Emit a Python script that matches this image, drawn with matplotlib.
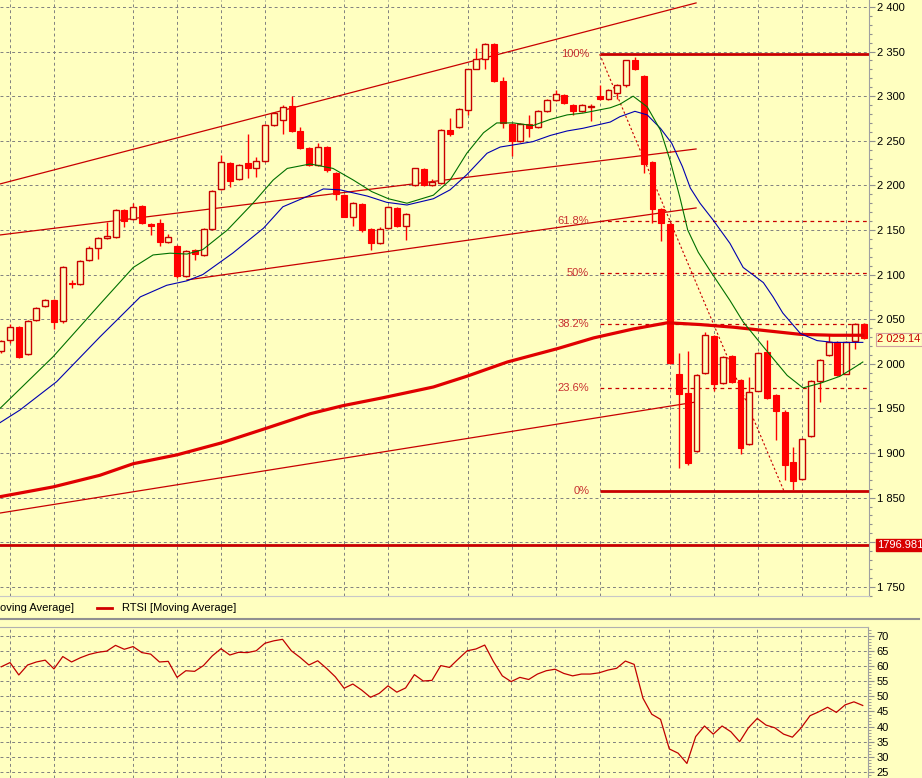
import numpy as np
import matplotlib.pyplot as plt
from matplotlib.ticker import MultipleLocator, FuncFormatter
from matplotlib.lines import Line2D

plt.rcParams['font.family'] = ['Liberation Sans', 'DejaVu Sans']

BG = '#FFFFC0'
RED = '#FF0000'
DARKRED = '#C80000'
GRID = '#808080'

# candle index of each bar (x), first visible bar is -1
idx = list(range(-1, 98))
opens = [2014, 2027, 2041, 2011, 2049, 2065, 2072, 2048, 2091, 2089,
         2116, 2130, 2141, 2142, 2172, 2162, 2177, 2157, 2158, 2136,
         2132, 2098, 2128, 2122, 2151, 2196, 2225, 2207, 2225, 2219,
         2227, 2268, 2273, 2289, 2261, 2242, 2223, 2243, 2214, 2189,
         2165, 2179, 2151, 2135, 2152, 2175, 2154, 2200, 2218, 2200,
         2203, 2262, 2265, 2285, 2331, 2342, 2359, 2317, 2269, 2250,
         2269, 2265, 2283, 2296, 2301, 2290, 2283, 2288, 2300, 2297,
         2303, 2313, 2340, 2323, 2226, 2174, 2157, 1989, 1967, 1902,
         1990, 2031, 1978, 2009, 1982, 1910, 1970, 2013, 1965, 1946,
         1890, 1871, 1919, 1981, 2010, 2024, 1989, 2026, 2045]
highs = [2027, 2045, 2042, 2049, 2064, 2073, 2073, 2110, 2094, 2116,
         2132, 2142, 2159, 2173, 2173, 2180, 2178, 2158, 2162, 2145,
         2133, 2127, 2129, 2152, 2195, 2234, 2226, 2224, 2258, 2232,
         2269, 2282, 2290, 2300, 2265, 2243, 2248, 2244, 2215, 2190,
         2181, 2180, 2152, 2153, 2177, 2176, 2169, 2220, 2219, 2207,
         2263, 2275, 2287, 2331, 2354, 2360, 2360, 2322, 2270, 2270,
         2279, 2284, 2297, 2307, 2302, 2291, 2291, 2291, 2313, 2308,
         2314, 2341, 2344, 2324, 2227, 2175, 2158, 2012, 2014, 1988,
         2036, 2032, 2009, 2010, 1983, 1985, 2013, 2027, 1966, 1948,
         1907, 1917, 1982, 2005, 2033, 2025, 2025, 2046, 2046]
lows = [2012, 2023, 2007, 2010, 2048, 2064, 2039, 2046, 2085, 2088,
        2115, 2117, 2140, 2141, 2153, 2161, 2157, 2144, 2132, 2135,
        2096, 2097, 2116, 2121, 2150, 2195, 2198, 2206, 2208, 2209,
        2226, 2267, 2258, 2260, 2241, 2222, 2222, 2215, 2184, 2164,
        2155, 2148, 2128, 2134, 2151, 2153, 2139, 2199, 2199, 2199,
        2202, 2255, 2264, 2279, 2330, 2331, 2316, 2264, 2233, 2249,
        2254, 2264, 2282, 2295, 2291, 2279, 2282, 2272, 2296, 2296,
        2297, 2310, 2329, 2214, 2158, 2138, 2000, 1883, 1886, 1901,
        1989, 1970, 1977, 1979, 1899, 1909, 1969, 1960, 1915, 1870,
        1859, 1870, 1918, 1957, 2009, 1986, 1988, 2017, 2028]
closes = [2025, 2041, 2008, 2048, 2063, 2072, 2047, 2108, 2089, 2115,
          2130, 2141, 2143, 2172, 2160, 2176, 2158, 2155, 2136, 2142,
          2098, 2126, 2123, 2151, 2194, 2226, 2205, 2223, 2219, 2227,
          2268, 2281, 2288, 2261, 2242, 2223, 2243, 2217, 2190, 2165,
          2180, 2150, 2135, 2151, 2176, 2154, 2168, 2219, 2200, 2204,
          2262, 2258, 2286, 2330, 2342, 2359, 2317, 2270, 2250, 2269,
          2264, 2283, 2296, 2302, 2292, 2283, 2290, 2289, 2297, 2307,
          2313, 2340, 2330, 2224, 2174, 2158, 2001, 1966, 1889, 1987,
          2032, 1977, 2008, 1980, 1906, 1968, 2012, 1962, 1947, 1886,
          1869, 1916, 1981, 2004, 2024, 1987, 2024, 2045, 2029.14]

# moving averages, read as (bar index, value)
ma_fast_x = [-1.14, 4.9, 10.6, 14, 16.25, 18.2, 20.1, 21.9, 24.7, 27.6, 29.9,
             31.5, 34.1, 36.7, 39, 41.1, 43, 45.1, 48.1, 50, 51.9, 53.8, 55.3,
             57.2, 59.4, 61.4, 63.3, 65.1, 68.2, 69.3, 70.8, 72.4, 73.9, 75,
             76.1, 77, 78.2, 79.5, 81.8, 83.3, 85.6, 88.3, 90.1, 92, 94.3,
             95.8, 96.9]
ma_fast_y = [1950, 2008, 2071, 2108, 2122, 2124, 2123, 2128, 2150, 2180, 2206,
             2219, 2224, 2219, 2206, 2193, 2185, 2180, 2189, 2206, 2236, 2259,
             2270, 2270, 2267, 2274, 2279, 2281, 2287, 2291, 2300, 2288, 2262,
             2228, 2187, 2150, 2125, 2105, 2071, 2047, 2019, 1987, 1973, 1978,
             1986, 1995, 2002]
ma_mid_x = [-1.14, 1.1, 5.3, 10.2, 14.8, 17.8, 20.1, 21.9, 25.3, 28.8, 31,
            34.1, 35.6, 37.5, 40.6, 42.8, 45.1, 48.1, 50, 51.9, 54.2, 55.7,
            57.6, 59.4, 61.4, 63.3, 65.1, 68.2, 69.3, 71, 72.4, 73.9, 75.2,
            76.4, 77.3, 78.4, 79.9, 81.8, 83.3, 85.6, 86.7, 87.8, 89.8, 91.7,
            93.5, 96.9]
ma_mid_y = [1934, 1948, 1980, 2030, 2075, 2088, 2093, 2100, 2124, 2152, 2176,
            2189, 2196, 2195, 2188, 2181, 2178, 2185, 2195, 2212, 2236, 2243,
            2246, 2249, 2256, 2261, 2264, 2271, 2277, 2283, 2279, 2264, 2247,
            2221, 2197, 2180, 2161, 2135, 2108, 2091, 2075, 2057, 2034, 2026,
            2024, 2024]
ma_slow_x = [-1.14, 4.9, 10.2, 14, 19, 23.9, 29.2, 34.1, 37.8, 42.4, 48.1,
             51.9, 56.5, 62.2, 66.3, 70.8, 74.7, 78.4, 82.2, 86, 89.8, 93.5,
             96.9]
ma_slow_y = [1851, 1862, 1875, 1888, 1898, 1911, 1928, 1944, 1953, 1962, 1974,
             1986, 2002, 2017, 2029, 2039, 2046, 2044, 2041, 2037, 2033, 2032,
             2032]

# trend lines: (x0, y0, x1, y1)
trend_lines = [(-1.14, 2201.6, 77.95, 2404.5),
               (-1.14, 2144.4, 77.95, 2240.8),
               (20.1, 2094.0, 77.95, 2174.7),
               (-1.14, 1832.7, 77.95, 1957.2)]

# fibonacci retracement
fib_start, fib_end = 67, 87.95
fib_high, fib_low = 2347, 1857
fib_ratios = [1.0, 0.618, 0.5, 0.382, 0.236, 0.0]
fib_labels = ['100%', '61.8%', '50%', '38.2%', '23.6%', '0%']

level_line = 1796.981
last_price = 2029.14

grid_idx = [0, 5, 14, 19, 24, 29, 38, 43, 52, 57, 62, 67, 75, 80, 85, 90, 95]

osc = [59.8, 61.2, 57.1, 60.4, 61.4, 62.0, 59.1, 63.2, 61.4, 62.8,
       63.9, 64.6, 65.0, 66.9, 65.6, 66.5, 64.5, 64.0, 61.4, 61.6,
       56.3, 58.5, 58.3, 60.2, 63.4, 65.8, 63.7, 64.6, 64.5, 65.1,
       67.6, 68.4, 68.9, 65.1, 62.9, 60.4, 61.8, 59.3, 56.5, 52.7,
       54.1, 52.1, 49.7, 51.0, 53.5, 51.4, 52.8, 57.2, 55.1, 55.3,
       60.2, 59.6, 62.4, 65.1, 65.7, 67.0, 61.5, 56.8, 54.9, 56.3,
       55.6, 57.4, 58.5, 59.0, 57.6, 56.8, 57.4, 57.4, 57.8, 58.7,
       59.3, 61.7, 60.6, 49.4, 44.1, 42.4, 32.6, 31.2, 27.8, 36.7,
       40.2, 37.5, 40.2, 38.3, 35.0, 39.6, 42.7, 40.5, 39.6, 37.5,
       36.5, 39.6, 43.6, 44.9, 46.4, 44.7, 47.2, 48.2, 47.0]

W, H = 922, 778
XMIN, XMAX = -1.14, 97.6

fig = plt.figure(figsize=(W / 100, H / 100), dpi=100, facecolor=BG)
ax = fig.add_axes([0, 1 - 596 / H, 869 / W, 596 / H], facecolor=BG)
ax2 = fig.add_axes([0, 0, 868 / W, (H - 627) / H], facecolor=BG)

# --- main price panel ---
x = np.array(idx)
o = np.array(opens); c = np.array(closes)
up = c >= o
ax.vlines(x, lows, highs, color=RED, lw=1.0, zorder=3)
body_lo = np.minimum(o, c)
body_h = np.maximum(np.abs(c - o), 1.0)
ax.bar(x[up], body_h[up], bottom=body_lo[up], width=0.68, facecolor=BG,
       edgecolor=DARKRED, linewidth=1.0, zorder=4)
ax.bar(x[~up], body_h[~up], bottom=body_lo[~up], width=0.68, facecolor=RED,
       edgecolor=RED, linewidth=0.8, zorder=4)

ax.plot(ma_slow_x, ma_slow_y, color='#E00000', lw=2.3, zorder=5)
ax.plot(ma_mid_x, ma_mid_y, color='#0000B0', lw=0.8, zorder=5)
ax.plot(ma_fast_x, ma_fast_y, color='#007000', lw=0.8, zorder=5)

for x0, y0, x1, y1 in trend_lines:
    ax.plot([x0, x1], [y0, y1], color=DARKRED, lw=0.9, zorder=2)

for r, lab in zip(fib_ratios, fib_labels):
    lvl = fib_low + r * (fib_high - fib_low)
    if r in (0.0, 1.0):
        ax.hlines(lvl, fib_start, XMAX, color=DARKRED, lw=2.0, zorder=2)
    else:
        ax.hlines(lvl, fib_start, XMAX, color=DARKRED, lw=0.9,
                  linestyles=(0, (3, 3)), zorder=2)
    ax.text(65.8, lvl, lab, color='#C83030', fontsize=8, ha='right',
            va='center', zorder=6)
ax.plot([fib_start, fib_end], [fib_high, fib_low], color=DARKRED, lw=0.8,
        linestyle=(0, (2, 2)), zorder=2)

ax.axhline(level_line, color=DARKRED, lw=2.0, zorder=2)


def price_fmt(v, p):
    v = int(round(v))
    if v == 1800:  # hidden behind the level marker
        return ''
    return f"{v // 1000} {v % 1000:03d}"


ax.set_xlim(XMIN, XMAX)
ax.set_ylim(1739.7, 2407.8)
ax.set_xticks(grid_idx)
ax.tick_params(axis='x', length=0, labelbottom=False)
ax.yaxis.tick_right()
ax.yaxis.set_major_locator(MultipleLocator(50))
ax.yaxis.set_minor_locator(MultipleLocator(10))
ax.yaxis.set_major_formatter(FuncFormatter(price_fmt))
ax.tick_params(axis='y', which='major', length=4, width=0.8, color='#909090',
               labelsize=8, pad=2)
ax.tick_params(axis='y', which='minor', length=2, width=0.8, color='#909090')
ax.grid(True, which='major', color=GRID, linestyle=(0, (3, 3)), lw=0.7)
ax.set_axisbelow(True)
for s in ('left', 'top'):
    ax.spines[s].set_visible(False)
ax.spines['right'].set_color('#A0A0A0')
ax.spines['bottom'].set_color('#C8C8C8')

ax.annotate('1796.981', xy=(1, level_line), xycoords=('axes fraction', 'data'),
            xytext=(6, 0), textcoords='offset points', va='center', ha='left',
            color='white', fontsize=8, annotation_clip=False, zorder=10,
            bbox=dict(boxstyle='square,pad=0.12', fc='#D80000', ec='#D80000'))
ax.annotate('2 029.14', xy=(1, last_price), xycoords=('axes fraction', 'data'),
            xytext=(6, -1), textcoords='offset points', va='center', ha='left',
            color='#C80000', fontsize=8, annotation_clip=False, zorder=10,
            bbox=dict(boxstyle='square,pad=0.12', fc=BG, ec='#D0A0A0', lw=0.8))

# --- legend strip ---
fig.text(0, 1 - 608 / H, 'oving Average]', fontsize=8,
         ha='left', va='center')
fig.add_artist(Line2D([97 / W, 112 / W], [1 - 608 / H] * 2, color='#D00000',
                      lw=2.0))
fig.text(122 / W, 1 - 608 / H, 'RTSI [Moving Average]', fontsize=8,
         ha='left', va='center')
fig.add_artist(Line2D([0, 919 / W], [1 - 618.5 / H] * 2, color='#909090',
                      lw=1.5))

# --- oscillator panel ---
ax2.plot(idx, osc, color='#C00000', lw=0.9, zorder=3)
ax2.set_xlim(XMIN, XMAX)
ax2.set_ylim(22.98, 72.98)
ax2.set_xticks(grid_idx)
ax2.tick_params(axis='x', length=0, labelbottom=False)
ax2.yaxis.tick_right()
ax2.yaxis.set_major_locator(MultipleLocator(5))
ax2.yaxis.set_minor_locator(MultipleLocator(1))
ax2.tick_params(axis='y', which='major', length=4, width=0.8, color='#909090',
                labelsize=8, pad=2)
ax2.tick_params(axis='y', which='minor', length=2, width=0.6, color='#909090')
ax2.grid(True, which='major', color=GRID, linestyle=(0, (3, 3)), lw=0.7)
ax2.set_axisbelow(True)
for s in ('left', 'bottom'):
    ax2.spines[s].set_visible(False)
ax2.spines['right'].set_color('#A0A0A0')
ax2.spines['top'].set_color('#B0B0B0')

fig.savefig('out.png', dpi=100, facecolor=BG)
